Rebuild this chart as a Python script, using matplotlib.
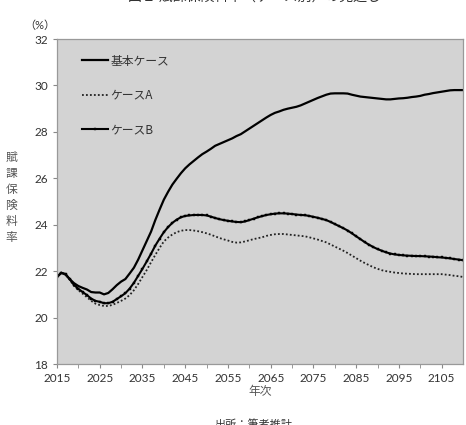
import matplotlib
matplotlib.use("Agg")
import matplotlib.pyplot as plt
import numpy as np

plt.rcParams['font.family'] = ['Noto Sans CJK JP', 'DejaVu Sans']

# data (yearly)
years = list(range(2015, 2111))

base_case = [
    21.75, 21.93, 21.85, 21.65, 21.48, 21.36, 21.28, 21.21, 21.10, 21.08,
    21.08, 21.00, 21.06, 21.22, 21.40, 21.55, 21.66, 21.90, 22.15, 22.50,
    22.90, 23.30, 23.70, 24.20, 24.65, 25.08, 25.42, 25.73, 25.98, 26.22,
    26.43, 26.60, 26.75, 26.90, 27.04, 27.15, 27.27, 27.40, 27.48, 27.56,
    27.64, 27.72, 27.82, 27.90, 28.02, 28.14, 28.26, 28.38, 28.50, 28.62,
    28.73, 28.82, 28.88, 28.95, 29.00, 29.04, 29.08, 29.14, 29.22, 29.30,
    29.38, 29.46, 29.53, 29.60, 29.65, 29.66, 29.66, 29.66, 29.65, 29.60,
    29.56, 29.52, 29.50, 29.48, 29.46, 29.44, 29.42, 29.40, 29.40, 29.42,
    29.44, 29.45, 29.47, 29.50, 29.52, 29.55, 29.60, 29.63, 29.67, 29.70,
    29.73, 29.76, 29.79, 29.80, 29.80, 29.80,
]

case_a = [
    21.75, 21.93, 21.86, 21.62, 21.36, 21.18, 21.03, 20.88, 20.72, 20.60,
    20.54, 20.50, 20.50, 20.55, 20.63, 20.72, 20.82, 20.97, 21.18, 21.45,
    21.75, 22.05, 22.38, 22.70, 23.00, 23.28, 23.45, 23.58, 23.68, 23.74,
    23.77, 23.77, 23.75, 23.72, 23.68, 23.63, 23.57, 23.50, 23.43, 23.37,
    23.32, 23.26, 23.23, 23.24, 23.28, 23.33, 23.38, 23.42, 23.46, 23.52,
    23.56, 23.59, 23.60, 23.60, 23.58, 23.56, 23.54, 23.52, 23.50, 23.46,
    23.41, 23.36, 23.30, 23.24, 23.15, 23.06, 22.97, 22.88, 22.78, 22.67,
    22.56, 22.45, 22.35, 22.26, 22.17, 22.10, 22.04, 22.00, 21.97, 21.94,
    21.92, 21.90, 21.89, 21.88, 21.87, 21.87, 21.87, 21.87, 21.87, 21.87,
    21.87, 21.85, 21.83, 21.80, 21.78, 21.75,
]

case_b = [
    21.75, 21.93, 21.88, 21.65, 21.40, 21.24, 21.10, 20.97, 20.82, 20.72,
    20.68, 20.62, 20.62, 20.68, 20.80, 20.92, 21.05, 21.25, 21.50, 21.80,
    22.10, 22.42, 22.75, 23.10, 23.40, 23.68, 23.90, 24.08, 24.22, 24.32,
    24.38, 24.40, 24.42, 24.42, 24.42, 24.40, 24.35, 24.29, 24.24, 24.20,
    24.17, 24.14, 24.12, 24.11, 24.14, 24.20, 24.26, 24.32, 24.37, 24.42,
    24.45, 24.48, 24.49, 24.49, 24.48, 24.46, 24.44, 24.42, 24.41, 24.38,
    24.34, 24.30, 24.25, 24.20, 24.12, 24.03, 23.94, 23.85, 23.75, 23.63,
    23.50, 23.38, 23.25, 23.14, 23.04, 22.95, 22.88, 22.81, 22.76, 22.72,
    22.70, 22.68, 22.67, 22.66, 22.65, 22.65, 22.64, 22.63, 22.62, 22.60,
    22.59, 22.57, 22.55, 22.52, 22.50, 22.47,
]

series_labels = ['基本ケース', 'ケースA', 'ケースB']
year_ticks = list(range(2015, 2110, 10))
rate_ticks = list(range(18, 33, 2))

num_font = ['Lato', 'Noto Sans CJK JP']

fig = plt.figure(figsize=(4.66, 4.25), dpi=100)
ax = fig.add_axes([0.1223, 0.1435, 0.8713, 0.7647])
ax.set_facecolor('#d3d3d3')

ax.plot(years, base_case, color='black', linewidth=1.6, label=series_labels[0])
ax.plot(years, case_a, color='#222222', linewidth=1.3, linestyle=(0, (1, 1.2)),
        label=series_labels[1])
ax.plot(years, case_b, color='black', linewidth=1.5, marker='s', markersize=1.8,
        markeredgewidth=0.3, label=series_labels[2])

ax.set_xlim(2015, 2110)
ax.set_ylim(18, 32)
ax.set_xticks(year_ticks)
ax.set_xticks(list(range(2020, 2110, 10)), minor=True)
ax.set_yticks(rate_ticks)
for lab in ax.get_xticklabels() + ax.get_yticklabels():
    lab.set_family(num_font)
    lab.set_fontsize(8.5)
    lab.set_color('#333333')
ax.tick_params(axis='both', which='both', direction='out', length=3,
               color='#888888', pad=3.5)

for sp in ax.spines.values():
    sp.set_color('#999999')
    sp.set_linewidth(0.9)

leg = ax.legend(loc='upper left', bbox_to_anchor=(0.035, 0.985), frameon=False,
                labelspacing=1.8, handlelength=2.2, handletextpad=0.2,
                fontsize=8.5)
for t in leg.get_texts():
    t.set_color('#333333')

ax.set_xlabel('年次', fontsize=8.5, color='#555555', labelpad=1)

fig.text(0.024, 0.535, '\n'.join('賦課保険料率'), fontsize=8.5, color='#555555',
         ha='center', va='center', linespacing=1.3)
fig.text(0.086, 0.94, '（%）', fontsize=8, color='#333333', ha='center',
         va='center', family=num_font)

fig.text(0.545, 1.008, '図１ 賦課保険料率（ケース別）の見通し', fontsize=10,
         ha='center', va='center', color='#333333')
fig.text(0.545, 0.0, '出所：筆者推計', fontsize=8, ha='center', va='center',
         color='#333333')

fig.savefig('out.png', dpi=100)
